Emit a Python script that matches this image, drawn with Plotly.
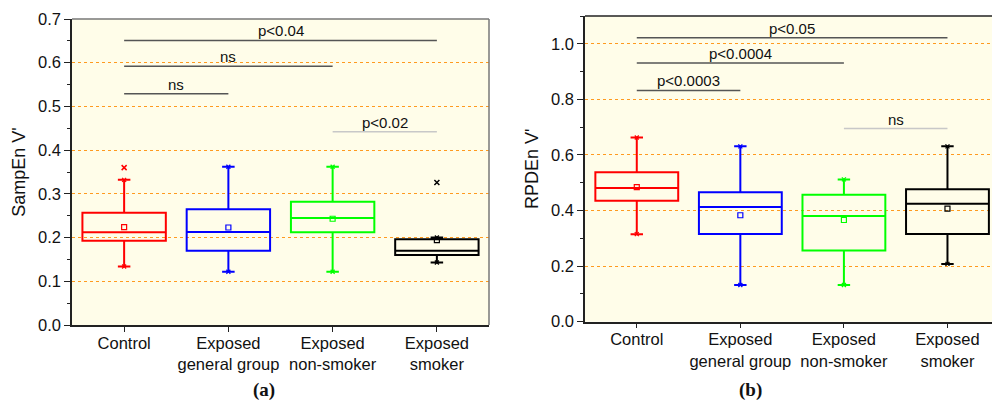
import plotly.graph_objects as go

categories = ["Control", "Exposed<br>general group", "Exposed<br>non-smoker", "Exposed<br>smoker"]
colors = ["#FF0000", "#0000FF", "#00FF00", "#000000"]

# Panel (a) SampEn V'
a_low = [0.134, 0.122, 0.122, 0.143]
a_q1 = [0.193, 0.170, 0.212, 0.160]
a_med = [0.212, 0.213, 0.245, 0.170]
a_q3 = [0.257, 0.265, 0.282, 0.196]
a_high = [0.332, 0.362, 0.362, 0.200]
a_mean = [0.224, 0.223, 0.243, 0.194]
a_out_x = [0, 3]
a_out_y = [0.360, 0.326]
a_brackets = [(0, 3, 0.651, "p<0.04", "#555555"),
              (0, 2, 0.592, "ns", "#555555"),
              (0, 1, 0.529, "ns", "#555555"),
              (2, 3, 0.442, "p<0.02", "#C8C8C8")]

# Panel (b) RPDEn V'
b_low = [0.315, 0.132, 0.132, 0.208]
b_q1 = [0.435, 0.316, 0.256, 0.316]
b_med = [0.481, 0.413, 0.380, 0.424]
b_q3 = [0.538, 0.466, 0.457, 0.477]
b_high = [0.663, 0.631, 0.512, 0.631]
b_mean = [0.484, 0.383, 0.366, 0.407]
b_brackets = [(0, 3, 1.022, "p<0.05", "#555555"),
              (0, 2, 0.931, "p<0.0004", "#555555"),
              (0, 1, 0.832, "p<0.0003", "#555555"),
              (2, 3, 0.695, "ns", "#C8C8C8")]

W, H = 992, 403
fig = go.Figure()
FONT = "Liberation Sans, Arial, sans-serif"


def add_panel(xa, ya, low, q1, med, q3, high, mean):
    for i in range(4):
        fig.add_trace(go.Box(
            x=[i], q1=[q1[i]], median=[med[i]], q3=[q3[i]],
            lowerfence=[low[i]], upperfence=[high[i]],
            width=0.8, whiskerwidth=0.15,
            line=dict(color=colors[i], width=2),
            fillcolor="rgba(0,0,0,0)", boxpoints=False,
            xaxis=xa, yaxis=ya, showlegend=False, hoverinfo="skip"))
        fig.add_trace(go.Scatter(
            x=[i], y=[mean[i]], mode="markers",
            marker=dict(symbol="square-open", size=5, color=colors[i], line=dict(width=1.2)),
            xaxis=xa, yaxis=ya, showlegend=False))
        fig.add_trace(go.Scatter(
            x=[i, i], y=[low[i], high[i]], mode="markers",
            marker=dict(symbol="x-thin", size=4, line=dict(width=1.3, color=colors[i])),
            xaxis=xa, yaxis=ya, showlegend=False))


add_panel("x", "y", a_low, a_q1, a_med, a_q3, a_high, a_mean)
add_panel("x2", "y2", b_low, b_q1, b_med, b_q3, b_high, b_mean)

fig.add_trace(go.Scatter(
    x=a_out_x, y=a_out_y, mode="markers",
    marker=dict(symbol="x-thin", size=5, line=dict(width=1.5, color=[colors[i] for i in a_out_x])),
    xaxis="x", yaxis="y", showlegend=False))

shapes = []
annotations = []
for (xa, ya, brs) in [("x", "y", a_brackets), ("x2", "y2", b_brackets)]:
    for (s, e, yv, lab, col) in brs:
        shapes.append(dict(type="line", xref=xa, yref=ya, x0=s, x1=e, y0=yv, y1=yv,
                           line=dict(color=col, width=1.5)))
        annotations.append(dict(x=(s + e) / 2, y=yv, xref=xa, yref=ya, text=lab,
                                showarrow=False, yanchor="bottom", yshift=-1,
                                font=dict(family=FONT, size=15, color="#111111")))

# frames (top / right)
shapes.append(dict(type="line", xref="x domain", yref="y domain", x0=0, x1=1, y0=1, y1=1,
                   line=dict(color="#777777", width=1.5)))
shapes.append(dict(type="line", xref="x domain", yref="y domain", x0=1, x1=1, y0=0, y1=1,
                   line=dict(color="#777777", width=1.5)))
shapes.append(dict(type="line", xref="x2 domain", yref="y2 domain", x0=0, x1=1, y0=1, y1=1,
                   line=dict(color="#222222", width=1.5)))

annotations.append(dict(x=251 / W, y=1 - 390 / H, xref="paper", yref="paper", text="<b>(a)</b>",
                        showarrow=False, yanchor="middle",
                        font=dict(family="Liberation Serif, serif", size=19, color="#111")))
annotations.append(dict(x=764 / W, y=1 - 390 / H, xref="paper", yref="paper", text="<b>(b)</b>",
                        showarrow=False, yanchor="middle",
                        font=dict(family="Liberation Serif, serif", size=19, color="#111")))

grid = dict(showgrid=True, gridcolor="#FF9A1F", griddash="dot", gridwidth=1)
common_x = dict(tickmode="array", tickvals=[0, 1, 2, 3], ticktext=categories,
                ticks="outside", ticklen=5, tickcolor="#222", showline=True, linecolor="#222",
                linewidth=1.5, showgrid=False, zeroline=False, automargin=False,
                ticklabelstandoff=-3,
                tickfont=dict(family=FONT, size=16.5, color="#111"))
common_y = dict(ticks="outside", ticklen=6, tickcolor="#222", showline=True, linecolor="#222",
                linewidth=1.5, zeroline=False, automargin=False,
                tickfont=dict(family=FONT, size=16.5, color="#111"), **grid)

fig.update_layout(
    width=W, height=H, margin=dict(l=0, r=0, t=0, b=0, autoexpand=False),
    paper_bgcolor="white", plot_bgcolor="#FFFDE9",
    xaxis=dict(domain=[72 / W, 489 / W], range=[-0.5, 3.5], anchor="y", **common_x),
    yaxis=dict(domain=[1 - 325 / H, 1 - 19 / H], range=[0, 0.7], anchor="x",
               tickvals=[0, 0.1, 0.2, 0.3, 0.4, 0.5, 0.6, 0.7], tickformat=".1f",
               minor=dict(dtick=0.05, ticks="outside", ticklen=3, tickcolor="#222", showgrid=False),
               title=dict(text="SampEn V'", font=dict(family=FONT, size=18, color="#111"), standoff=8),
               **common_y),
    xaxis2=dict(domain=[585 / W, 1.0], range=[-0.5, 3.43], anchor="y2", **common_x),
    yaxis2=dict(domain=[1 - 321.7 / H, 1 - 16 / H], range=[0, 1.1], anchor="x2",
                tickvals=[0, 0.2, 0.4, 0.6, 0.8, 1.0], tickformat=".1f",
                minor=dict(dtick=0.1, ticks="outside", ticklen=3, tickcolor="#222", showgrid=False),
                title=dict(text="RPDEn V'", font=dict(family=FONT, size=18, color="#111"), standoff=8),
                **common_y),
    shapes=shapes, annotations=annotations,
)

post = (
    "document.documentElement.style.margin='0';document.documentElement.style.padding='0';"
    "document.body.style.margin='0';document.body.style.padding='0';document.body.style.overflow='hidden';"
)
fig.write_html("out.html", config={"displayModeBar": False}, post_script=post)
